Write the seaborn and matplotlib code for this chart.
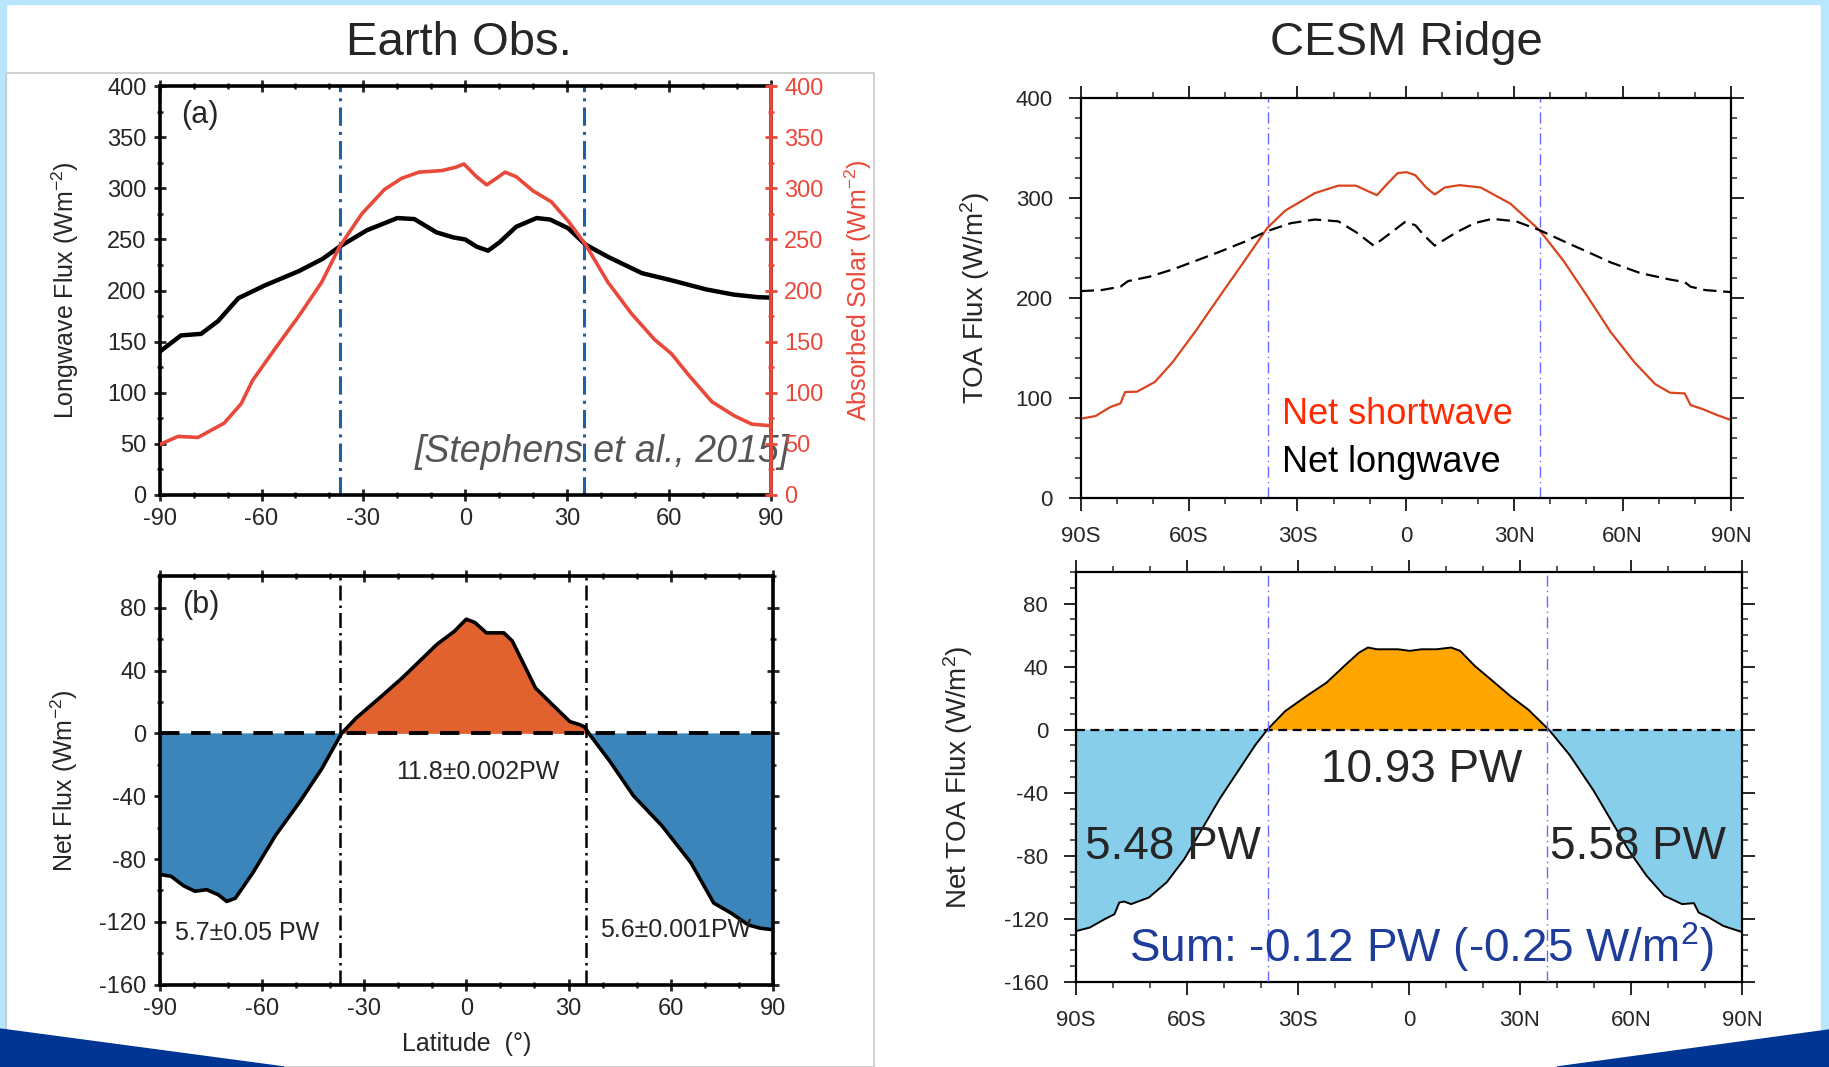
import numpy as np
import pandas as pd
import matplotlib
matplotlib.use("Agg")
import matplotlib.pyplot as plt
import seaborn as sns
from matplotlib.patches import Rectangle, Polygon
from matplotlib.ticker import MultipleLocator, FixedLocator, NullFormatter

# ---------------- data ----------------
# Panel (a): Earth observations, longwave flux and absorbed solar (W m-2)
A_lat_lw = [-90, -83.7, -77.8, -72.8, -66.8, -59, -49, -42, -37, -29, -20, -15, -8.5, -3.5, 0,
            3.3, 6.7, 10, 15, 21, 25, 30.3, 35.4, 42, 52, 60.7, 71, 79, 86, 90]
A_lw = [140, 156, 157.5, 170, 192.5, 205, 219, 231, 243, 259, 271, 270, 257, 252, 250,
        243, 239, 247, 262.5, 271, 269.5, 261, 245, 233, 217, 210, 201, 196, 193.5, 193]
A_lat_sw = [-90, -84.6, -78.7, -71, -66, -62.6, -55.9, -49, -42.3, -37, -30.5, -23.8, -18.7, -13.6,
            -6.9, -2.6, -0.4, 3.3, 6.3, 9.2, 11.7, 15, 20, 25.3, 30.3, 35.4, 42, 49, 55.7, 60.7,
            65.8, 72.6, 79.3, 84.4, 90]
A_sw = [49, 57, 56, 70, 89, 112, 143.5, 175, 208, 243, 275, 299, 310, 316,
        317.5, 321, 324, 311.5, 303.5, 310, 316, 311.5, 297.5, 287, 268, 245, 208, 177, 152, 138,
        117, 91, 77, 69, 67.5]

# Panel (b): Earth observations, net flux (W m-2)
B_lat = [-90, -86.6, -83, -79.6, -76.2, -72.8, -70.3, -67.8, -62.7, -56, -49, -42.4, -36.6, -32.4,
         -25.5, -18.8, -13.7, -8.6, -3.5, 0, 2.5, 5.9, 11, 13.5, 16.9, 20.3, 25.3, 30.4, 32.9, 34.6,
         36.3, 42.2, 49, 57.4, 65.9, 72.6, 77.7, 82.8, 86.2, 90]
B_net = [-89.8, -91, -97, -100.5, -99.5, -102.7, -107, -105, -89, -65, -44, -22.5, 0, 9.6,
         22.5, 35.3, 46, 56.7, 65, 72.7, 70.6, 64, 64, 58.8, 43.9, 28.9, 18.2, 7.5, 5.8, 4.3,
         -1, -18, -39.6, -58.8, -82.3, -108, -114.4, -122, -124, -125]
obs_bounds = [-37, 35]

# Panel (c): CESM Ridge TOA fluxes (W m-2)
C_lat_sw = [-90, -85.9, -81.8, -79, -77.7, -74.4, -69.5, -64.6, -58, -51.5, -44.9, -38.4, -33.4,
            -25.2, -18.7, -13.8, -10.5, -8, -5.6, -2.3, 0.2, 2.6, 5.6, 8, 10.8, 14.9, 20.7, 28.9,
            37, 43.6, 50.2, 56.7, 63.3, 69, 73.1, 77.2, 78.8, 82.1, 86.2, 90]
C_sw = [79.3, 82, 91, 94.6, 106, 106.4, 116, 135.7, 168, 202, 236, 270, 287.5,
        305, 312.5, 312.5, 307, 303, 312.5, 325, 326, 323, 310.7, 303.6, 310.7, 313, 310.7, 294.6,
        268, 237.5, 202, 166, 135.7, 114, 105.4, 104.6, 93, 89, 82.9, 78]
C_lat_lw = [-90, -84.3, -79, -76.9, -71, -64.6, -58, -51.5, -44.9, -38.4, -31.8, -25.2, -18.7,
            -13.8, -8.9, -3.9, -0.3, 2.6, 5.1, 8, 14.1, 19, 23.9, 30.5, 37, 43.6, 50.2, 56.7,
            64.9, 73.1, 77.2, 78.8, 82.9, 90]
C_lw = [207, 208, 211.4, 217, 221.4, 228.6, 237.5, 246.4, 256, 267, 275, 278.6, 276.8,
        266, 252.5, 266, 276, 273, 262.5, 252.5, 266, 275, 279.3, 276.8, 268, 257, 246.4, 235.7,
        225, 218.6, 216, 211.4, 208, 206]

# Panel (d): CESM Ridge net TOA flux (W m-2)
D_lat = [-90, -86.3, -82.3, -79.6, -78.3, -77, -75.1, -70.3, -65.5, -60.7, -55.9, -51.1, -46.3,
         -41.5, -38.3, -33.5, -27.1, -22.3, -17.5, -13.5, -11.1, -8.6, -6.2, -3, 0.2, 3.4, 7.4,
         11.4, 13.8, 17.8, 22.6, 27.4, 32.2, 37.8, 43.4, 49.8, 54.6, 59.4, 64.2, 69, 73.8, 77,
         78.3, 81, 85, 90]
D_net = [-127.7, -125.5, -120.2, -117, -109.6, -109, -110.6, -106.4, -96.8, -81.9, -62.8, -43.6,
         -26.6, -9.6, 0, 11.7, 22.3, 29.8, 40.4, 48.9, 52.1, 51, 51, 51, 50, 51, 51,
         52.1, 50, 40.4, 30.9, 21.3, 12.8, 0, -16, -38.3, -57.4, -76.6, -92.6, -105.3, -110.6, -110,
         -116, -119, -124.5, -128.3]
cesm_bounds = [-38.2, 37.2]

lat_ticks = [-90, -60, -30, 0, 30, 60, 90]
obs_lat_labels = ["-90", "-60", "-30", "0", "30", "60", "90"]
cesm_lat_labels = ["90S", "60S", "30S", "0", "30N", "60N", "90N"]

# ---------------- style ----------------
sns.set_style("white")
plt.rcParams["font.family"] = ["Liberation Sans", "DejaVu Sans"]
plt.rcParams["mathtext.fontset"] = "custom"
plt.rcParams["mathtext.rm"] = "Liberation Sans"
plt.rcParams["mathtext.it"] = "Liberation Sans:italic"
plt.rcParams["axes.unicode_minus"] = False

NARROW = ["Liberation Sans Narrow", "Liberation Sans", "DejaVu Sans"]
RED_A = "#E8493B"
BLUE_V = "#1F5FA5"
ORANGE_B = "#E2622F"
BLUE_B = "#3B85BA"
SW_C = "#D9441C"
VL_C = "#6A6AFF"
ORANGE_D = "#FFA500"
SKY_D = "#87CEEB"
SUM_C = "#1E3C9A"
LIGHT_BG = "#B8E6FD"
DARK_BLUE = "#003594"

fig = plt.figure(figsize=(18.29, 10.67), dpi=100)
fig.patch.set_facecolor("white")

W, H = 1829.0, 1067.0
# slide decorations
fig.add_artist(Rectangle((0, 1 - 4 / H), 1, 4 / H, transform=fig.transFigure, color=LIGHT_BG, zorder=-2))
fig.add_artist(Rectangle((0, 0), 5.5 / W, 1, transform=fig.transFigure, color=LIGHT_BG, zorder=-2))
fig.add_artist(Rectangle((1821 / W, 0), 8 / W, 1, transform=fig.transFigure, color=LIGHT_BG, zorder=-2))
# embedded image frame for the observations figure
fig.add_artist(Rectangle((5.5 / W, 0), (874 - 5.5) / W, 1 - 73 / H, transform=fig.transFigure,
                         facecolor="none", edgecolor="#C8C8C8", lw=1.2, zorder=-1))
fig.add_artist(Polygon([(0, 1 - 1029 / H), (284 / W, 0), (0, 0)], closed=True,
                       transform=fig.transFigure, color=DARK_BLUE, zorder=5))
fig.add_artist(Polygon([(1557 / W, 0), (1, 1 - 1030 / H), (1, 0)], closed=True,
                       transform=fig.transFigure, color=DARK_BLUE, zorder=5))

fig.text(459 / W, 1 - 43 / H, "Earth Obs.", ha="center", va="center", fontsize=34)
fig.text(1406 / W, 1 - 43 / H, "CESM Ridge", ha="center", va="center", fontsize=34)


def obs_axes_style(ax, ymaj, ymin):
    for s in ax.spines.values():
        s.set_linewidth(2.6)
        s.set_color("black")
    ax.set_xlim(-90, 90)
    ax.xaxis.set_major_locator(FixedLocator(lat_ticks))
    ax.set_xticklabels(obs_lat_labels)
    ax.xaxis.set_minor_locator(MultipleLocator(10))
    ax.yaxis.set_major_locator(MultipleLocator(ymaj))
    ax.yaxis.set_minor_locator(MultipleLocator(ymin))
    ax.tick_params(which="major", direction="inout", length=9, width=2, labelsize=17, pad=5,
                   top=True, bottom=True, left=True)
    ax.tick_params(which="minor", direction="inout", length=5, width=1.8, top=True, bottom=True, left=True)


def cesm_axes_style(ax, ymaj, ymin):
    for s in ax.spines.values():
        s.set_linewidth(1.6)
        s.set_color("black")
    ax.set_xlim(-90, 90)
    ax.xaxis.set_major_locator(FixedLocator(lat_ticks))
    ax.set_xticklabels(cesm_lat_labels)
    ax.xaxis.set_minor_locator(MultipleLocator(10))
    ax.yaxis.set_major_locator(MultipleLocator(ymaj))
    ax.yaxis.set_minor_locator(MultipleLocator(ymin))
    ax.tick_params(which="major", direction="out", length=9, width=1.4, labelsize=16, pad=11,
                   top=True, right=True, bottom=True, left=True)
    ax.tick_params(which="minor", direction="out", length=4.5, width=1.1,
                   top=True, right=True, bottom=True, left=True)


# ---------------- panel (a) ----------------
ax_a = fig.add_axes([159.6 / W, 1 - 494.6 / H, (771 - 159.6) / W, (494.6 - 86.4) / H])
ax_a.set_facecolor("white")
sns.lineplot(x=A_lat_lw, y=A_lw, ax=ax_a, color="black", linewidth=3.2)
ax_a.set_ylim(0, 400)
obs_axes_style(ax_a, 50, 25)
ax_a.tick_params(which="both", right=False)
for b in obs_bounds:
    ax_a.axvline(b, color=BLUE_V, lw=2.2, ls=(0, (6, 2, 1, 2)), zorder=1)
ax_a.set_ylabel(r"Longwave Flux (Wm$^{-2}$)", fontsize=18)
ax_a.yaxis.set_label_coords(-0.129, 0.5)
ax_a.set_xlabel("")
ax_a.text(-78, 372, "(a)", fontsize=22, ha="center", va="center")
ax_a.text(-15, 42, "[Stephens et al., 2015]", fontsize=27, style="italic", color="#555555",
          ha="left", va="center", zorder=6)

ax_a2 = ax_a.twinx()
sns.lineplot(x=A_lat_sw, y=A_sw, ax=ax_a2, color=RED_A, linewidth=2.6)
ax_a2.set_ylim(0, 400)
ax_a2.set_xlim(-90, 90)
ax_a2.yaxis.set_major_locator(MultipleLocator(50))
ax_a2.yaxis.set_minor_locator(MultipleLocator(25))
ax_a2.tick_params(which="major", direction="inout", length=9, width=2, labelsize=17, pad=5,
                  colors=RED_A, right=True, left=False)
ax_a2.tick_params(which="minor", direction="inout", length=5, width=1.8, colors=RED_A, right=True, left=False)
for s in ax_a2.spines.values():
    s.set_visible(False)
ax_a2.spines["right"].set_visible(True)
ax_a2.spines["right"].set_color(RED_A)
ax_a2.spines["right"].set_linewidth(2.6)
ax_a2.set_ylabel(r"Absorbed Solar (Wm$^{-2}$)", fontsize=18, color=RED_A, rotation=90)
ax_a2.yaxis.set_label_coords(1.117, 0.5)
ax_a2.set_xlabel("")

# ---------------- panel (b) ----------------
ax_b = fig.add_axes([159.6 / W, 1 - 984.7 / H, (773 - 159.6) / W, (984.7 - 576.3) / H])
ax_b.set_facecolor("white")
bl = np.array(B_lat)
bn = np.array(B_net)
ax_b.fill_between(bl, bn, 0, where=bn >= 0, interpolate=True, color=ORANGE_B, lw=0, zorder=1)
ax_b.fill_between(bl, bn, 0, where=bn <= 0, interpolate=True, color=BLUE_B, lw=0, zorder=1)
sns.lineplot(x=B_lat, y=B_net, ax=ax_b, color="black", linewidth=2.6, zorder=3)
ax_b.axhline(0, color="black", lw=2.8, ls=(0, (5, 3)), zorder=4)
for b in obs_bounds:
    ax_b.axvline(b, color="black", lw=1.8, ls=(0, (6, 2, 1, 2)), zorder=4)
ax_b.set_ylim(-160, 100)
obs_axes_style(ax_b, 40, 20)
ax_b.tick_params(which="both", right=True)
ax_b.set_yticks([-160, -120, -80, -40, 0, 40, 80])
ax_b.set_ylabel(r"Net Flux (Wm$^{-2}$)", fontsize=18)
ax_b.yaxis.set_label_coords(-0.129, 0.5)
ax_b.set_xlabel("Latitude  (\u00b0)", fontsize=18)
ax_b.xaxis.set_label_coords(0.5, -0.116)
ax_b.text(-78, 82, "(b)", fontsize=22, ha="center", va="center")
ax_b.text(3.3, -24.6, "11.8\u00b10.002PW", fontsize=18, family=NARROW, ha="center", va="center")
ax_b.text(-64.4, -127, "5.7\u00b10.05 PW", fontsize=18, family=NARROW, ha="center", va="center")
ax_b.text(61.3, -125, "5.6\u00b10.001PW", fontsize=18, family=NARROW, ha="center", va="center", zorder=5)

# ---------------- panel (c) ----------------
ax_c = fig.add_axes([1080.7 / W, 1 - 498 / H, (1731 - 1080.7) / W, (498 - 98.2) / H])
ax_c.set_facecolor("white")
sns.lineplot(x=C_lat_sw, y=C_sw, ax=ax_c, color=SW_C, linewidth=1.6)
sns.lineplot(x=C_lat_lw, y=C_lw, ax=ax_c, color="black", linewidth=1.6, linestyle=(0, (6, 3)))
for b in cesm_bounds:
    ax_c.axvline(b, color=VL_C, lw=1.0, ls=(0, (8, 3, 1, 3)), zorder=1)
ax_c.set_ylim(0, 400)
cesm_axes_style(ax_c, 100, 20)
ax_c.set_ylabel(r"TOA Flux (W/m$^{2}$)", fontsize=20)
ax_c.yaxis.set_label_coords(-0.136, 0.5)
ax_c.set_xlabel("")
ax_c.text(-34.3, 84, "Net shortwave", fontsize=26, color="#FF2A00", ha="left", va="center")
ax_c.text(-34.3, 36, "Net longwave", fontsize=26, color="black", ha="left", va="center")

# ---------------- panel (d) ----------------
ax_d = fig.add_axes([1076 / W, 1 - 982 / H, (1742 - 1076) / W, (982 - 572) / H])
ax_d.set_facecolor("white")
dl = np.array(D_lat)
dn = np.array(D_net)
ax_d.fill_between(dl, dn, 0, where=dn >= 0, interpolate=True, color=ORANGE_D, lw=0, zorder=1)
ax_d.fill_between(dl, dn, 0, where=dn <= 0, interpolate=True, color=SKY_D, lw=0, zorder=1)
sns.lineplot(x=D_lat, y=D_net, ax=ax_d, color="black", linewidth=1.4, zorder=3)
ax_d.axhline(0, color="black", lw=1.6, ls=(0, (4, 2.5)), zorder=4)
for b in cesm_bounds:
    ax_d.axvline(b, color=VL_C, lw=1.0, ls=(0, (8, 3, 1, 3)), zorder=4)
ax_d.set_ylim(-160, 100)
cesm_axes_style(ax_d, 40, 10)
ax_d.set_yticks([-160, -120, -80, -40, 0, 40, 80])
ax_d.set_ylabel(r"Net TOA Flux (W/m$^{2}$)", fontsize=20)
ax_d.yaxis.set_label_coords(-0.152, 0.5)
ax_d.set_xlabel("")
ax_d.text(3.4, -25.5, "10.93 PW", fontsize=33, ha="center", va="center", zorder=5)
ax_d.text(-63.9, -74.5, "5.48 PW", fontsize=33, ha="center", va="center", zorder=5)
ax_d.text(61.8, -74.5, "5.58 PW", fontsize=33, ha="center", va="center", zorder=5)
ax_d.text(3.4, -138, r"Sum: -0.12 PW (-0.25 W/m$^{2}$)", fontsize=33, color=SUM_C,
          ha="center", va="center", zorder=5)

fig.savefig("out.png", dpi=100, facecolor="white")
